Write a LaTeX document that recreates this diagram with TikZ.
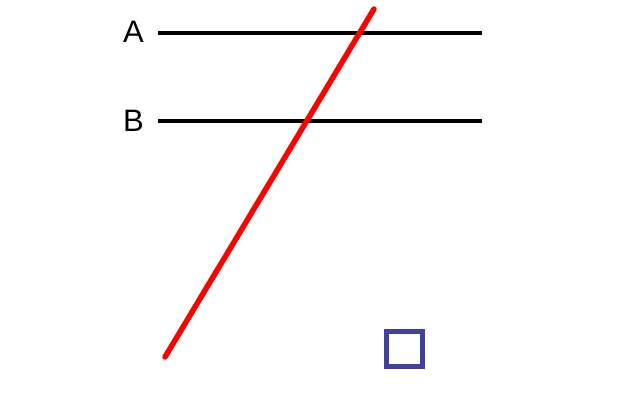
\documentclass[tikz,border=0pt]{standalone}
\usepackage{fontspec}
\setmainfont{Liberation Sans}
\begin{document}
\begin{tikzpicture}[x=1pt,y=-1pt,
  hline/.style={line width=4.5pt},
  lbl/.style={font=\fontsize{31}{31}\selectfont, inner sep=0pt},
  redline/.style={draw={rgb,255:red,255;green,0;blue,0}, line width=5.5pt, line cap=round},
  sq/.style={draw={rgb,255:red,64;green,64;blue,160}, line width=5pt}]
\useasboundingbox[fill=white] (0,0) rectangle (640,400);
\coordinate (a1) at (158,33);
\coordinate (a2) at (482,33);
\coordinate (b1) at (158,121);
\coordinate (b2) at (482,121);
\draw[hline] (a1) -- (a2);
\draw[hline] (b1) -- (b2);
\node[lbl] (la) at (133.5,32) {A};
\node[lbl] (lb) at (133.5,121) {B};
\coordinate (r1) at (165,357);
\coordinate (r2) at (374,9);
\draw[redline] (r1) -- (r2);
\coordinate (s1) at (386.5,331.5);
\coordinate (s2) at (422,366.5);
\draw[sq] (s1) rectangle (s2);
\end{tikzpicture}
\end{document}
